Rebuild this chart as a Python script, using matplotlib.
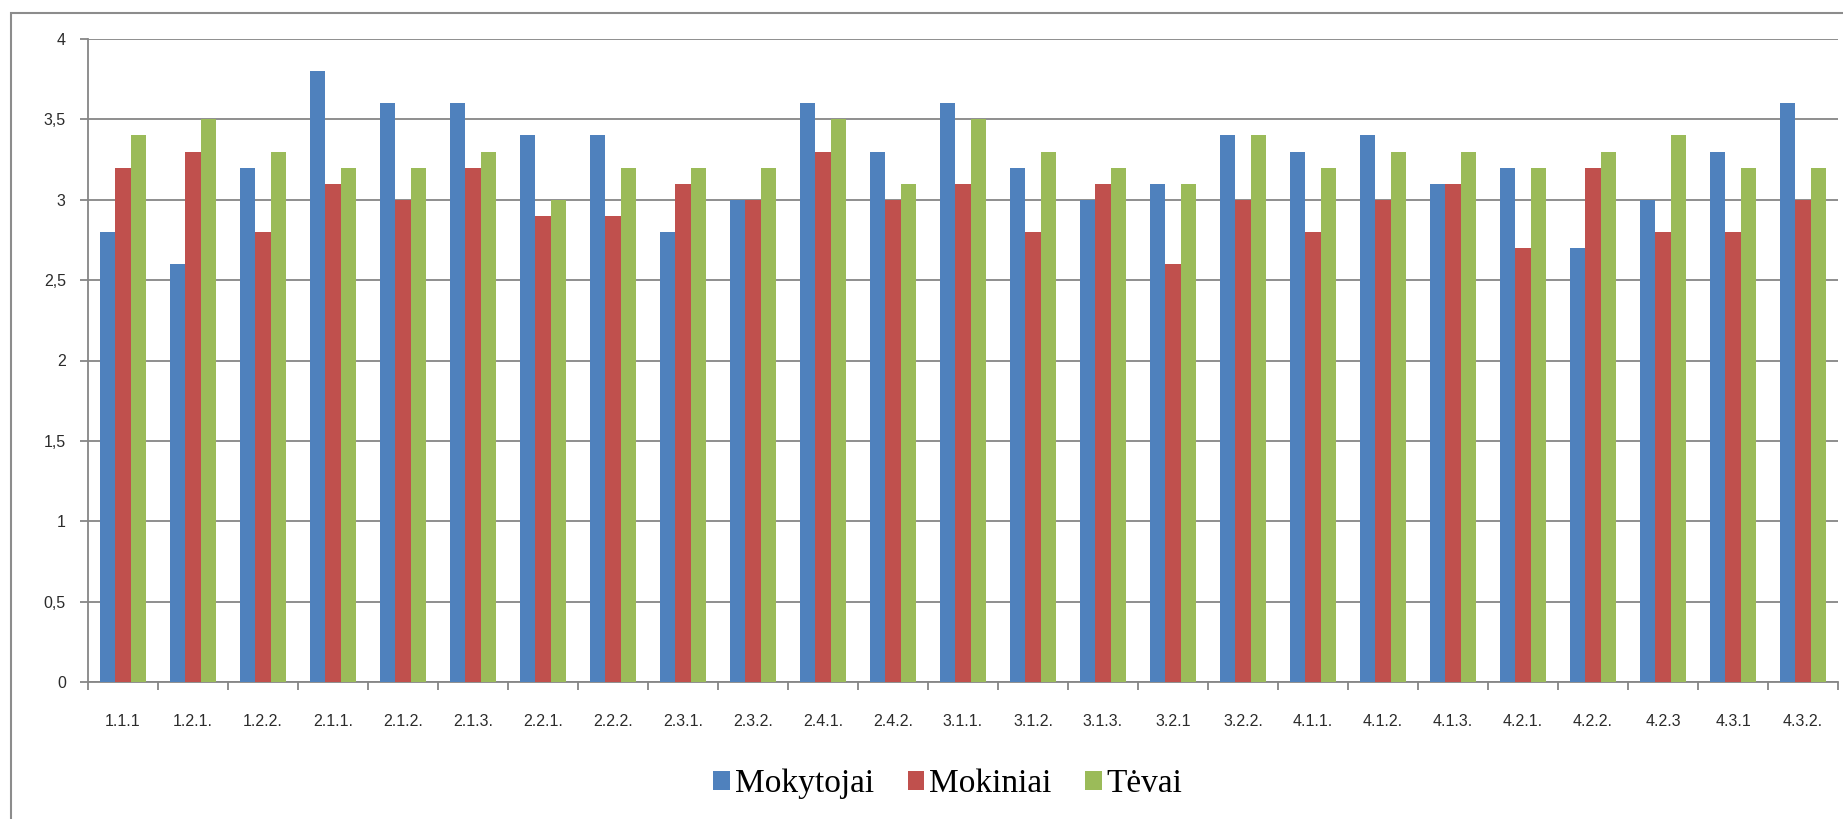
import numpy as np
import matplotlib.pyplot as plt
from matplotlib.patches import Rectangle

# chart data
categories = ['1.1.1', '1.2.1.', '1.2.2.', '2.1.1.', '2.1.2.', '2.1.3.', '2.2.1.', '2.2.2.',
              '2.3.1.', '2.3.2.', '2.4.1.', '2.4.2.', '3.1.1.', '3.1.2.', '3.1.3.', '3.2.1',
              '3.2.2.', '4.1.1.', '4.1.2.', '4.1.3.', '4.2.1.', '4.2.2.', '4.2.3', '4.3.1', '4.3.2.']
mokytojai = [2.8, 2.6, 3.2, 3.8, 3.6, 3.6, 3.4, 3.4, 2.8, 3.0, 3.6, 3.3, 3.6,
             3.2, 3.0, 3.1, 3.4, 3.3, 3.4, 3.1, 3.2, 2.7, 3.0, 3.3, 3.6]
mokiniai = [3.2, 3.3, 2.8, 3.1, 3.0, 3.2, 2.9, 2.9, 3.1, 3.0, 3.3, 3.0, 3.1,
            2.8, 3.1, 2.6, 3.0, 2.8, 3.0, 3.1, 2.7, 3.2, 2.8, 2.8, 3.0]
tevai = [3.4, 3.5, 3.3, 3.2, 3.2, 3.3, 3.0, 3.2, 3.2, 3.2, 3.5, 3.1, 3.5,
         3.3, 3.2, 3.1, 3.4, 3.2, 3.3, 3.3, 3.2, 3.3, 3.4, 3.2, 3.2]
series_names = ['Mokytojai', 'Mokiniai', 'Tėvai']
yticks = [0, 0.5, 1, 1.5, 2, 2.5, 3, 3.5, 4]
ytick_labels = ['0', '0,5', '1', '1,5', '2', '2,5', '3', '3,5', '4']

colors = ['#4F81BD', '#C0504D', '#9BBB59']
grid_col = '#868686'
text_col = '#2b2b2b'

fig = plt.figure(figsize=(18.43, 8.19), dpi=100)
ax = fig.add_axes([88 / 1843, 1 - 682 / 819, 1750 / 1843, (682 - 39) / 819])

x = np.arange(len(categories))
w = 0.22
for i, vals in enumerate([mokytojai, mokiniai, tevai]):
    ax.bar(x + (i - 1) * w, vals, w, color=colors[i], label=series_names[i], zorder=3)

ax.set_xlim(-0.5, len(categories) - 0.5)
ax.set_ylim(0, 4)
ax.set_yticks(yticks)
ax.set_yticklabels(ytick_labels, fontsize=11.5, color=text_col, family='Liberation Sans')
ax.yaxis.grid(True, color=grid_col, linewidth=1.3, zorder=0)

ax.set_xticks(x)
ax.set_xticklabels(categories, fontsize=11.5, color=text_col, family='Liberation Sans')
ax.set_xticks(np.arange(len(categories) + 1) - 0.5, minor=True)
ax.tick_params(axis='x', which='major', length=0, pad=23)
ax.tick_params(axis='x', which='minor', length=6, width=1.3, color=grid_col)
ax.tick_params(axis='y', length=6, width=1.3, color=grid_col, pad=10)

for s in ['top', 'right']:
    ax.spines[s].set_visible(False)
for s in ['left', 'bottom']:
    ax.spines[s].set_color(grid_col)
    ax.spines[s].set_linewidth(1.3)

# outer chart frame (cut off on the right and bottom)
fig.add_artist(Rectangle((11 / 1843, -0.1), 1.2, 1 - 13 / 819 + 0.1,
                         transform=fig.transFigure, fill=False,
                         edgecolor='#8c8c8c', linewidth=1.5))

leg = fig.legend(loc='center', bbox_to_anchor=(948 / 1843, 1 - 784 / 819), ncol=3,
                 frameon=False, prop={'family': 'Liberation Serif', 'size': 24},
                 handlelength=0.5, handleheight=0.5, handletextpad=0.15,
                 columnspacing=1.0)

fig.savefig('out.png', dpi=100)
